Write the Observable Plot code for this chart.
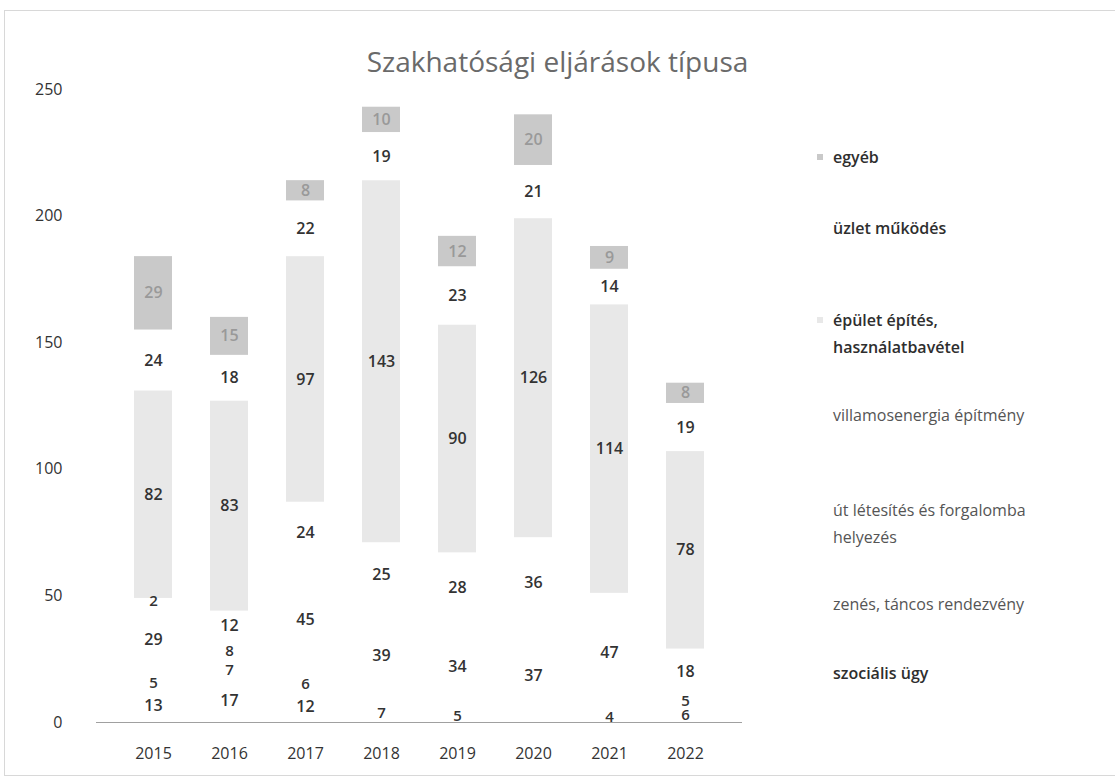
<!DOCTYPE html>
<html><head><meta charset="utf-8">
<script src="https://cdn.jsdelivr.net/npm/d3@7"></script>
<script src="https://cdn.jsdelivr.net/npm/@observablehq/plot@0.6"></script>
<style>
body{margin:0;background:#fff;font-family:"Open Sans",sans-serif;}
#wrap{position:relative;width:1115px;height:779px;overflow:hidden;background:#fff;}
#frame{position:absolute;left:4px;top:10px;width:1130px;height:764px;border:1px solid #d8d8d8;}
#title{position:absolute;left:0;width:1115px;top:42px;text-align:center;font-size:28px;color:#6a6a6a;font-family:"Liberation Sans Narrow","Open Sans",sans-serif;}
#chart{position:absolute;left:0;top:0;}
.li{position:absolute;left:833px;font-size:16px;color:#333;line-height:27px;white-space:nowrap;}
.sw{position:absolute;left:-16px;top:10px;width:6px;height:6px;}
</style></head>
<body>
<div id="wrap">
  <div id="frame"></div>
  <div id="chart"></div>
  <div id="title">Szakhatósági eljárások típusa</div>
  <div id="legend"></div>
</div>
<script>
const years = ["2015","2016","2017","2018","2019","2020","2021","2022"];
const series = ["szociális ügy","zenés, táncos rendezvény","út létesítés és forgalomba helyezés","villamosenergia építmény","épület építés, használatbavétel","üzlet működés","egyéb"];
const szocialis = [13,17,12,7,5,0,4,6];
const zenes     = [5,7,6,0,0,0,0,5];
const ut        = [29,8,45,39,34,37,47,18];
const villamos  = [2,12,24,25,28,36,0,0];
const epulet    = [82,83,97,143,90,126,114,78];
const uzlet     = [24,18,22,19,23,21,14,19];
const egyeb     = [29,15,8,10,12,20,9,8];
const yTicks = [0,50,100,150,200,250];
const colors = ["#ffffff","#ffffff","#ffffff","#ffffff","#e8e8e8","#ffffff","#c9c9c9"];

const cols = [szocialis, zenes, ut, villamos, epulet, uzlet, egyeb];
const data = [];
series.forEach((s, i) => years.forEach((y, j) => {
  if (cols[i][j] > 0) data.push({series: s, year: y, value: cols[i][j]});
}));

const chart = Plot.plot({
  width: 1115, height: 779,
  marginTop: 89, marginBottom: 57, marginLeft: 96, marginRight: 373,
  style: {fontFamily: "'Open Sans', sans-serif", fontSize: "16px", color: "#333", background: "transparent"},
  x: {domain: years, padding: 0.5, label: null},
  y: {domain: [0, 250], label: null},
  color: {domain: series, range: colors},
  marks: [
    Plot.barY(data, {x: "year", y: "value", fill: "series", order: series}),
    Plot.ruleY([0], {stroke: "#a0a0a0", strokeWidth: 1.2}),
    Plot.axisX({tickSize: 0, tickPadding: 25, fontSize: 16, fill: "#333", label: null}),
    Plot.axisY({ticks: yTicks, tickSize: 0, tickPadding: 34, fontSize: 16, fill: "#333", label: null}),
    Plot.text(data, Plot.stackY({x: "year", y: "value", z: "series", order: series,
      text: d => d.series === "egyéb" ? "" : String(d.value),
      fontSize: d => d.value < 10 ? 15 : 16,
      fill: "#333", fontWeight: 600})),
    Plot.text(data, Plot.stackY({x: "year", y: "value", z: "series", order: series,
      text: d => d.series === "egyéb" ? String(d.value) : "",
      fill: "#999", fontWeight: 600, fontSize: 16}))
  ]
});
document.getElementById("chart").appendChild(chart);

// legend (HTML, right side)
const legendTops = [660, 591, 497, 402, 307, 215, 144];
const legendWeights = [600, 400, 400, 400, 600, 600, 600];
const legendColors = ["#2e2e2e","#555","#555","#555","#2e2e2e","#2e2e2e","#2e2e2e"];
const lg = document.getElementById("legend");
series.forEach((s, i) => {
  const d = document.createElement("div");
  d.className = "li";
  d.style.top = legendTops[i] + "px";
  d.style.fontWeight = legendWeights[i];
  d.style.color = legendColors[i];
  let label = s;
  if (s === "épület építés, használatbavétel") label = "épület építés,<br>használatbavétel";
  if (s === "út létesítés és forgalomba helyezés") label = "út létesítés és forgalomba<br>helyezés";
  d.innerHTML = `<span class="sw" style="background:${colors[i]}"></span>` + label;
  lg.appendChild(d);
});
</script>
</body></html>
